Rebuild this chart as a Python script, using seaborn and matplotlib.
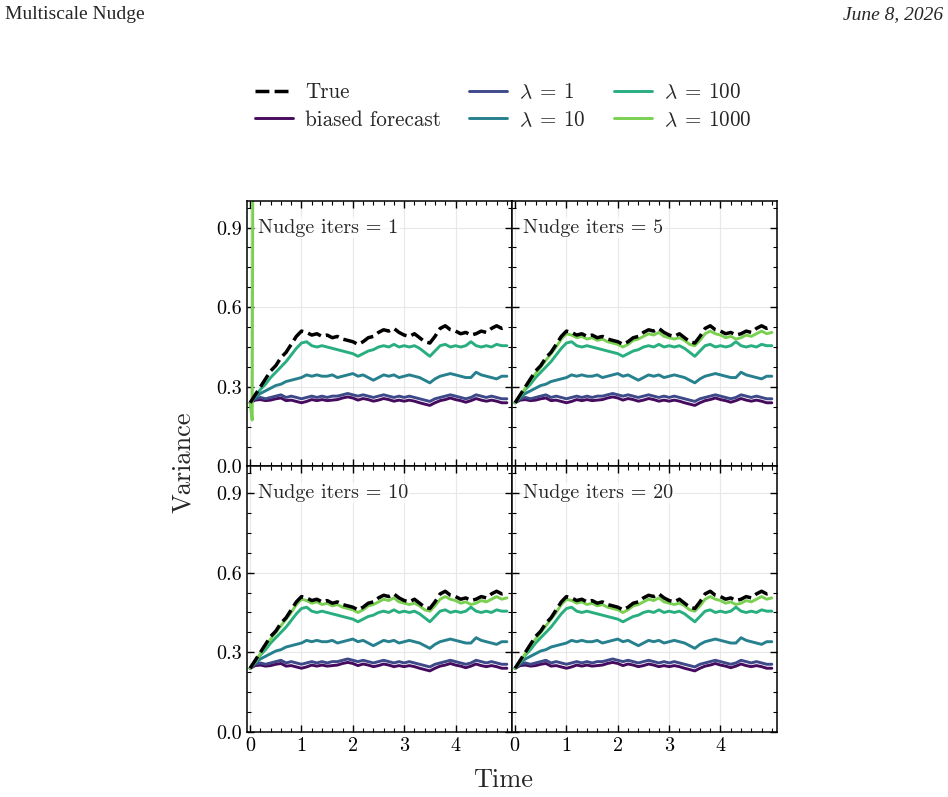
import numpy as np
import pandas as pd
import seaborn as sns
import matplotlib.pyplot as plt
from matplotlib.ticker import AutoMinorLocator, FormatStrFormatter

# time axis (values every 0.1)
time = [round(0.1 * i, 1) for i in range(51)]

true_var = [0.24, 0.27, 0.30, 0.33, 0.36, 0.38, 0.41, 0.43, 0.46, 0.49,
            0.51, 0.505, 0.495, 0.50, 0.49, 0.495, 0.485, 0.49, 0.48, 0.475,
            0.47, 0.46, 0.47, 0.485, 0.49, 0.505, 0.515, 0.51, 0.52, 0.505,
            0.495, 0.49, 0.50, 0.485, 0.47, 0.465, 0.49, 0.52, 0.53, 0.515,
            0.51, 0.50, 0.505, 0.495, 0.50, 0.51, 0.505, 0.52, 0.53, 0.52, 0.525]

biased = [0.24, 0.25, 0.252, 0.248, 0.25, 0.255, 0.258, 0.248, 0.25, 0.245,
          0.24, 0.245, 0.252, 0.248, 0.252, 0.248, 0.25, 0.252, 0.258, 0.262,
          0.258, 0.25, 0.256, 0.252, 0.246, 0.25, 0.256, 0.252, 0.246, 0.25,
          0.246, 0.25, 0.246, 0.24, 0.235, 0.23, 0.24, 0.248, 0.252, 0.258,
          0.252, 0.248, 0.242, 0.248, 0.256, 0.25, 0.246, 0.25, 0.246, 0.24, 0.24]

lam1 = [0.24, 0.255, 0.26, 0.255, 0.26, 0.265, 0.27, 0.26, 0.265, 0.26,
        0.255, 0.26, 0.265, 0.26, 0.265, 0.26, 0.265, 0.265, 0.27, 0.275,
        0.27, 0.265, 0.27, 0.265, 0.26, 0.265, 0.27, 0.265, 0.26, 0.265,
        0.26, 0.265, 0.26, 0.255, 0.25, 0.245, 0.255, 0.26, 0.265, 0.27,
        0.265, 0.26, 0.255, 0.26, 0.27, 0.265, 0.26, 0.265, 0.26, 0.255, 0.255]

lam10 = [0.24, 0.26, 0.275, 0.285, 0.295, 0.305, 0.31, 0.32, 0.325, 0.33,
         0.335, 0.345, 0.34, 0.345, 0.34, 0.34, 0.345, 0.335, 0.34, 0.345,
         0.35, 0.34, 0.345, 0.335, 0.325, 0.335, 0.345, 0.34, 0.345, 0.335,
         0.34, 0.345, 0.34, 0.335, 0.325, 0.315, 0.33, 0.34, 0.345, 0.35,
         0.345, 0.34, 0.335, 0.335, 0.355, 0.345, 0.34, 0.335, 0.33, 0.34, 0.34]

lam100 = [0.24, 0.265, 0.29, 0.31, 0.335, 0.355, 0.375, 0.395, 0.42, 0.445,
          0.465, 0.47, 0.455, 0.45, 0.455, 0.45, 0.445, 0.44, 0.435, 0.43,
          0.425, 0.415, 0.425, 0.435, 0.44, 0.45, 0.455, 0.45, 0.46, 0.45,
          0.455, 0.45, 0.455, 0.445, 0.43, 0.415, 0.435, 0.455, 0.46, 0.45,
          0.455, 0.45, 0.455, 0.47, 0.455, 0.45, 0.455, 0.45, 0.46, 0.455, 0.455]

lam1000 = [0.24, 0.265, 0.295, 0.325, 0.35, 0.375, 0.40, 0.425, 0.45, 0.48,
           0.50, 0.495, 0.485, 0.49, 0.48, 0.485, 0.475, 0.48, 0.47, 0.465,
           0.46, 0.45, 0.46, 0.475, 0.48, 0.49, 0.50, 0.495, 0.505, 0.49,
           0.485, 0.48, 0.485, 0.475, 0.46, 0.455, 0.475, 0.50, 0.51, 0.50,
           0.495, 0.485, 0.49, 0.48, 0.485, 0.495, 0.49, 0.50, 0.51, 0.50, 0.505]

# with a single nudge iteration lambda=1000 blows up right away
time_blowup = [0.0, 0.04, 0.05, 0.055]
lam1000_blowup = [0.24, 0.175, 0.9, 3.0]

nudge_iters = [1, 5, 10, 20]
lam_labels = [r"$\lambda\:=\:1$", r"$\lambda\:=\:10$", r"$\lambda\:=\:100$", r"$\lambda\:=\:1000$"]

sns.set_theme(style="ticks")
plt.rcParams.update({
    "font.family": "serif",
    "font.serif": ["cmr10"],
    "mathtext.fontset": "cm",
    "axes.formatter.use_mathtext": True,
    "axes.unicode_minus": False,
    "axes.edgecolor": "black",
    "axes.linewidth": 1.1,
    "xtick.direction": "in",
    "ytick.direction": "in",
    "xtick.top": True,
    "ytick.right": True,
    "xtick.major.size": 5,
    "ytick.major.size": 5,
    "xtick.minor.size": 2.6,
    "ytick.minor.size": 2.6,
    "xtick.major.width": 1.0,
    "ytick.major.width": 1.0,
    "xtick.minor.width": 0.8,
    "ytick.minor.width": 0.8,
    "xtick.color": "black",
    "ytick.color": "black",
    "xtick.labelsize": 14.5,
    "ytick.labelsize": 14.5,
})

vir = sns.color_palette("viridis", as_cmap=True)
pal = [vir(v) for v in [0.03, 0.22, 0.43, 0.63, 0.8]]

fig, axes = plt.subplots(2, 2, figsize=(9.48, 7.97), dpi=100, sharex=True, sharey=True)
fig.subplots_adjust(left=0.2606, right=0.8196, top=0.7478, bottom=0.0816, wspace=0, hspace=0)

for k, ax in enumerate(axes.flat):
    sns.lineplot(x=time, y=biased, ax=ax, color=pal[0], lw=2.1, label="biased forecast", legend=False)
    for j, series in enumerate([lam1, lam10, lam100]):
        sns.lineplot(x=time, y=series, ax=ax, color=pal[j + 1], lw=2.1, label=lam_labels[j], legend=False)
    if nudge_iters[k] == 1:
        sns.lineplot(x=time_blowup, y=lam1000_blowup, ax=ax, color=pal[4], lw=2.1,
                     label=lam_labels[3], legend=False, sort=False)
    else:
        sns.lineplot(x=time, y=lam1000, ax=ax, color=pal[4], lw=2.1, label=lam_labels[3], legend=False)
    sns.lineplot(x=time, y=true_var, ax=ax, color="black", lw=2.5, label="True", legend=False)
    ax.lines[-1].set_linestyle((0, (4, 1.5)))

    ax.text(0.042, 0.9, "Nudge iters = %d" % nudge_iters[k], transform=ax.transAxes,
            fontsize=14.5, va="center", ha="left",
            bbox=dict(facecolor="white", edgecolor="none", alpha=0.7, pad=1))

    ax.set_xlim(-0.06, 5.1)
    ax.set_ylim(0, 1)
    ax.set_xticks([0, 1, 2, 3, 4])
    ax.set_yticks([0.0, 0.3, 0.6, 0.9])
    ax.yaxis.set_major_formatter(FormatStrFormatter("%.1f"))
    ax.xaxis.set_minor_locator(AutoMinorLocator(5))
    ax.yaxis.set_minor_locator(AutoMinorLocator(4))
    ax.grid(True, which="major", color="0.91", lw=0.8)
    ax.set_xlabel("")
    ax.set_ylabel("")

handles, labels = axes[0, 1].get_legend_handles_labels()
order = [labels.index(l) for l in ["True", "biased forecast"] + lam_labels]
fig.legend([handles[i] for i in order], [labels[i] for i in order],
           loc="upper center", bbox_to_anchor=(0.531, 0.92), ncol=3, frameon=False,
           fontsize=15.2, handlelength=1.8, handletextpad=0.55, columnspacing=1.35,
           labelspacing=0.38)

fig.text(0.531, 0.021, "Time", fontsize=19, ha="center", va="center")
fig.text(0.193, 0.42, "Variance", fontsize=19, ha="center", va="center", rotation=90)

fig.text(0.005, 0.982, "Multiscale Nudge", family="Liberation Serif", fontsize=14, va="center", ha="left")
fig.text(0.995, 0.982, "June 8, 2026", family="Liberation Serif", style="italic",
         fontsize=14, va="center", ha="right")

plt.savefig("out.png", dpi=100)
